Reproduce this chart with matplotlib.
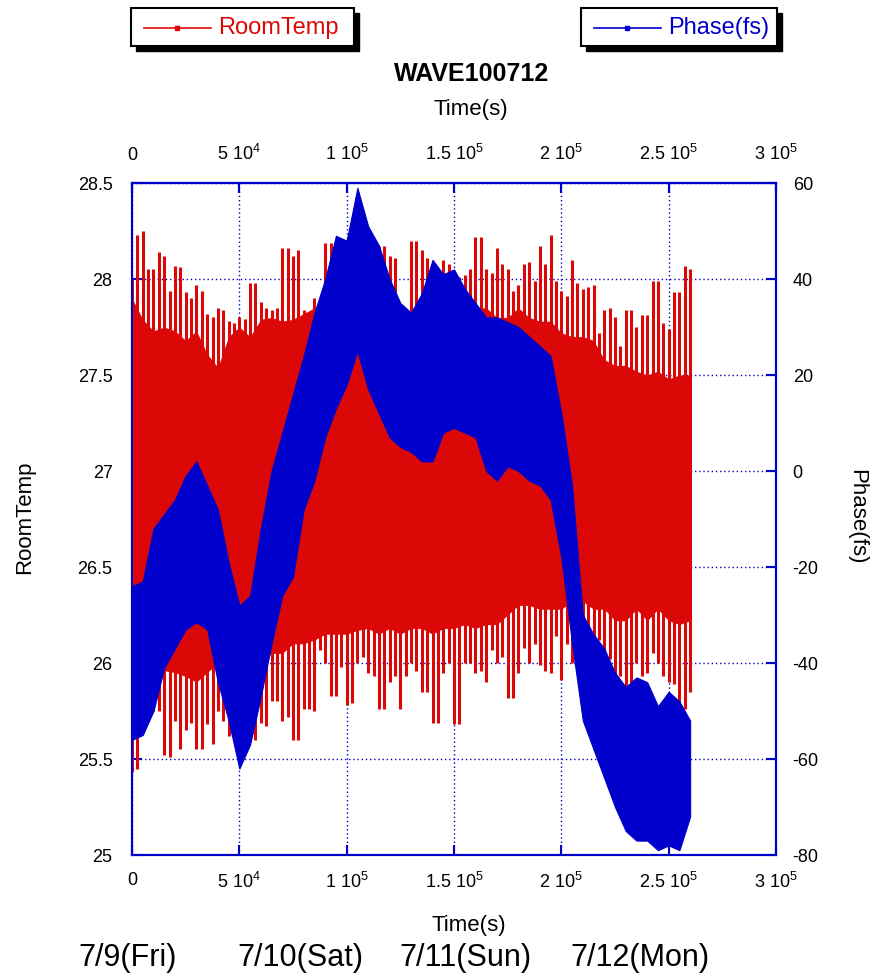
import numpy as np
import matplotlib
matplotlib.use("Agg")
import matplotlib.pyplot as plt
from matplotlib.patches import Rectangle
from matplotlib.lines import Line2D

plt.rcParams['font.family'] = ['Liberation Sans', 'DejaVu Sans']
plt.rcParams['mathtext.default'] = 'regular'
plt.rcParams['axes.unicode_minus'] = False

# time axis, one sample every 5000 s (envelopes)
time_s = np.arange(0, 260001, 5000)
# spike tips read in between those samples
time_mid = np.arange(2500, 257501, 5000)

# RoomTemp: tips of the upward spikes, top and bottom of the dense band, tips of downward spikes
temp_spike_hi = [28.00, 28.25, 28.05, 28.12, 28.07, 27.93, 27.97, 27.82, 27.85, 27.78,
                 27.80, 27.98, 27.88, 27.84, 28.16, 28.12, 27.84, 27.90, 28.19, 28.10,
                 28.05, 28.00, 28.02, 28.17, 28.12, 27.82, 28.20, 28.15, 28.07, 28.10,
                 27.98, 28.02, 28.22, 28.05, 28.16, 28.05, 27.97, 28.09, 28.17, 28.23,
                 27.94, 28.10, 27.95, 27.97, 27.84, 27.80, 27.84, 27.75, 27.81, 27.99,
                 27.74, 27.93, 28.05]
temp_core_hi = [27.90, 27.79, 27.73, 27.75, 27.73, 27.68, 27.73, 27.61, 27.54, 27.70,
                27.75, 27.70, 27.79, 27.80, 27.78, 27.79, 27.82, 27.85, 27.85, 27.85,
                27.85, 27.85, 27.85, 27.85, 27.85, 27.75, 27.85, 27.85, 27.85, 27.88,
                27.88, 27.88, 27.85, 27.85, 27.80, 27.80, 27.85, 27.80, 27.78, 27.78,
                27.72, 27.70, 27.70, 27.68, 27.58, 27.55, 27.55, 27.52, 27.50, 27.52,
                27.48, 27.50, 27.50]
temp_core_lo = [25.90, 25.90, 25.95, 25.96, 25.95, 25.93, 25.90, 25.95, 26.00, 26.00,
                26.00, 26.00, 26.00, 26.05, 26.05, 26.10, 26.10, 26.12, 26.15, 26.15,
                26.15, 26.17, 26.18, 26.15, 26.18, 26.15, 26.18, 26.18, 26.15, 26.18,
                26.18, 26.20, 26.18, 26.20, 26.20, 26.25, 26.30, 26.30, 26.28, 26.28,
                26.28, 26.32, 26.32, 26.28, 26.28, 26.22, 26.22, 26.28, 26.22, 26.28,
                26.22, 26.20, 26.22]
temp_spike_lo = [25.43, 25.70, 25.75, 25.52, 25.70, 25.65, 25.55, 25.68, 25.75, 25.62,
                 25.70, 25.62, 25.69, 25.80, 25.70, 25.60, 25.76, 25.75, 26.00, 25.83,
                 25.78, 26.00, 25.95, 25.76, 25.90, 25.76, 26.00, 25.85, 25.69, 25.95,
                 25.68, 26.00, 25.95, 25.90, 26.00, 25.82, 25.95, 26.00, 25.99, 25.95,
                 25.91, 26.00, 26.10, 26.00, 25.95, 25.86, 25.86, 26.00, 25.95, 26.00,
                 25.90, 25.79, 25.85]
temp_mid_hi = [28.23, 28.05, 28.14, 27.94, 28.06, 27.90, 27.94, 27.80, 27.84, 27.77,
               27.79, 27.98, 27.85, 27.85, 28.16, 28.15, 27.82, 27.90, 28.19, 28.05,
               28.00, 28.00, 28.10, 28.17, 28.11, 27.79, 28.20, 28.11, 28.03, 28.08,
               28.01, 28.05, 28.22, 28.03, 28.08, 27.94, 28.08, 27.99, 28.08, 27.99,
               27.91, 27.98, 27.96, 27.72, 27.85, 27.65, 27.84, 27.81, 27.99, 27.77,
               27.93, 28.07]
temp_mid_lo = [25.45, 25.70, 25.75, 25.51, 25.55, 25.69, 25.55, 25.58, 25.70, 25.60,
               25.70, 25.60, 25.67, 25.80, 25.72, 25.60, 25.76, 26.07, 25.83, 25.98,
               25.79, 26.03, 25.93, 25.76, 25.93, 25.93, 25.96, 25.85, 25.69, 26.00,
               25.68, 26.00, 25.96, 26.07, 26.03, 25.82, 26.08, 26.10, 25.96, 26.14,
               26.10, 26.10, 26.14, 26.12, 26.02, 25.93, 25.86, 25.93, 26.05, 25.93,
               25.89, 25.76]

# Phase(fs): upper and lower edge of the band
phase_hi = [-24, -23, -12, -9, -6, -1, 2, -3, -8, -19,
            -28, -26, -12, 0, 8, 16, 24, 33, 40, 49,
            48, 59, 51, 47, 40, 35, 33, 37, 44, 41,
            42, 38, 35, 32, 32, 31, 30, 28, 26, 24,
            12, -3, -30, -34, -37, -42, -45, -43, -44, -49,
            -46, -48, -52]
phase_lo = [-56, -55, -50, -41, -37, -33, -31.5, -33, -44, -52,
            -62, -57, -47, -36, -26, -22, -8, -2, 7, 13,
            18, 25, 17, 12, 7, 5, 4, 2, 2, 8,
            9, 8, 7, 0, -2, 1, 0, -2, -3, -6,
            -18, -36, -52, -58, -64, -70, -75, -77, -77, -79,
            -78, -79, -72]

x_ticks = [0, 50000, 100000, 150000, 200000, 250000, 300000]
x_labels = ['0', '5 10$^4$', '1 10$^5$', '1.5 10$^5$', '2 10$^5$', '2.5 10$^5$', '3 10$^5$']
temp_ticks = [25, 25.5, 26, 26.5, 27, 27.5, 28, 28.5]
temp_labels = ['25', '25.5', '26', '26.5', '27', '27.5', '28', '28.5']
phase_ticks = [-80, -60, -40, -20, 0, 20, 40, 60]
day_labels = ['7/9(Fri)', '7/10(Sat)', '7/11(Sun)', '7/12(Mon)']

RED = '#dc0808'
BLUE = '#0000cc'
W, H = 872, 973
TICK_FS = 13

fig = plt.figure(figsize=(W / 100, H / 100), dpi=100)
ax1 = fig.add_axes([132 / W, 1 - 855 / H, (776 - 132) / W, (855 - 183) / H])

# red band + spikes
ax1.fill_between(time_s, temp_core_lo, temp_core_hi, color=RED, lw=0, zorder=2)
ax1.vlines(time_s, temp_spike_lo, temp_spike_hi, color=RED, lw=2.2, zorder=2)
ax1.vlines(time_mid, temp_mid_lo, temp_mid_hi, color=RED, lw=2.2, zorder=2)
ax1.set_xlim(0, 300000)
ax1.set_ylim(25, 28.5)
ax1.set_xticks(x_ticks)
ax1.set_xticklabels(x_labels)
ax1.set_yticks(temp_ticks)
ax1.set_yticklabels(temp_labels)
ax1.grid(True, color=BLUE, ls=(0, (1, 2)), lw=1, zorder=0)
ax1.set_axisbelow(True)
ax1.tick_params(axis='x', direction='in', length=7, width=1.5, color=BLUE,
                top=True, labelsize=TICK_FS, pad=12)
ax1.tick_params(axis='y', direction='in', length=7, width=1.5, color=BLUE, labelsize=TICK_FS, pad=14)
for s in ax1.spines.values():
    s.set_color(BLUE)
    s.set_linewidth(1.5)

top = ax1.secondary_xaxis('top')
top.set_xticks(x_ticks)
top.set_xticklabels(x_labels)
top.tick_params(direction='in', length=7, width=1.5, color=BLUE, labelsize=TICK_FS, pad=14)
top.spines['top'].set_color(BLUE)
top.spines['top'].set_linewidth(1.5)

# blue phase on top
ax2 = ax1.twinx()
ax2.fill_between(time_s, phase_lo, phase_hi, color=BLUE, lw=0.8, edgecolor=BLUE)
ax2.set_ylim(-80, 60)
ax2.set_yticks(phase_ticks)
ax2.tick_params(axis='y', direction='in', length=7, width=1.5, color=BLUE, labelsize=TICK_FS, pad=12)
for s in ax2.spines.values():
    s.set_color(BLUE)
    s.set_linewidth(1.5)

fig.text(472 / W, 1 - 74 / H, 'WAVE100712', ha='center', va='center', fontsize=18, fontweight='bold')
fig.text(471 / W, 1 - 110 / H, 'Time(s)', ha='center', va='center', fontsize=16)
fig.text(469 / W, 1 - 926 / H, 'Time(s)', ha='center', va='center', fontsize=16)
fig.text(25 / W, 1 - 517 / H, 'RoomTemp', ha='center', va='center', rotation=90, fontsize=16)
fig.text(857 / W, 1 - 517 / H, 'Phase(fs)', ha='center', va='center', rotation=270, fontsize=16)

for xc, lab in zip([128, 300, 465, 640], day_labels):
    fig.text(xc / W, 1 - 958 / H, lab, ha='center', va='center', fontsize=22)


def legend_box(x0, x1, col, label):
    y0, y1 = 8, 46
    fig.add_artist(Rectangle((x0 / W + 5 / W, 1 - (y1 + 5) / H), (x1 - x0) / W, (y1 - y0) / H,
                             transform=fig.transFigure, facecolor='black', edgecolor='black'))
    fig.add_artist(Rectangle((x0 / W, 1 - y1 / H), (x1 - x0) / W, (y1 - y0) / H,
                             transform=fig.transFigure, facecolor='white', edgecolor='black', lw=1.5))
    ym = 1 - 28 / H
    fig.add_artist(Line2D([(x0 + 13) / W, (x0 + 80) / W], [ym, ym], transform=fig.transFigure,
                          color=col, lw=1.2))
    fig.add_artist(Line2D([(x0 + 46) / W], [ym], transform=fig.transFigure, color=col,
                          marker='s', ms=2.5))
    fig.text((x0 + 87) / W, ym, label, color=col, ha='left', va='center', fontsize=17)


legend_box(131, 354, RED, 'RoomTemp')
legend_box(581, 777, BLUE, 'Phase(fs)')

fig.savefig('out.png', dpi=100)
